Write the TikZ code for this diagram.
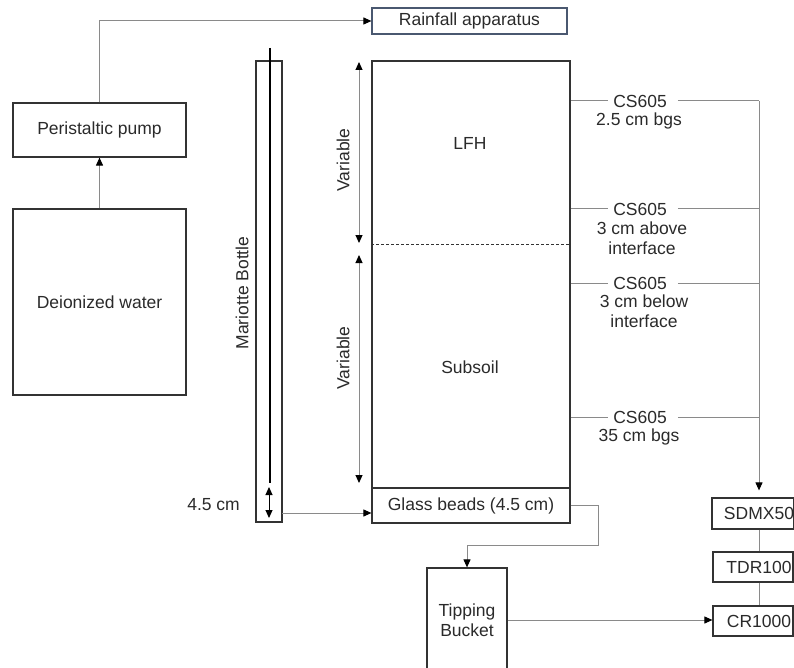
\documentclass[tikz,border=0pt]{standalone}
\usepackage{fontspec}
\setmainfont{Liberation Sans}
\usetikzlibrary{arrows.meta}
\definecolor{boxc}{HTML}{333333}
\definecolor{conc}{HTML}{8A8A8A}
\definecolor{txtc}{HTML}{2A2A2A}
\definecolor{rainc}{HTML}{4A5870}
\begin{document}
\begin{tikzpicture}[x=1pt,y=-1pt,
  font=\fontsize{17.5}{20}\selectfont, text=txtc,
  box/.style={draw=boxc,line width=1.2pt,inner sep=0pt,align=center},
  conn/.style={draw=conc,line width=1pt},
  arr/.style={-{Triangle[length=8pt,width=7pt,color=black]}},
  darr/.style={{Triangle[length=8pt,width=7pt,color=black]}-{Triangle[length=8pt,width=7pt,color=black]}},
  lbl/.style={inner sep=0pt,align=center}]
\useasboundingbox (0,0) rectangle (794,668);
% boxes
\node[box,draw=rainc,minimum width=195pt,minimum height=26pt] (rain) at (469.5,21) {Rainfall apparatus};
\node[box,minimum width=173pt,minimum height=54pt] (pump) at (99.5,130) {Peristaltic pump};
\node[box,minimum width=173pt,minimum height=186pt] (water) at (99.5,302) {Deionized water};
\node[box,minimum width=26pt,minimum height=461pt] (mar) at (269,291.5) {};
\node[lbl,rotate=90] (mlbl) at (242,293) {Mariotte Bottle};
\node[box,minimum width=198pt,minimum height=462pt] (col) at (471,292) {};
\node[box,minimum width=198pt,minimum height=35pt] (glass) at (471,505.5) {Glass beads (4.5 cm)};
\node[lbl] (lfh) at (470,143) {LFH};
\node[lbl] (sub) at (470,367) {Subsoil};
\node[box,minimum width=80pt,minimum height=104pt] (tb) at (467,620) {Tipping\\Bucket};
\node[box,minimum width=80pt,minimum height=31pt] (sdmx) at (753,513.5) {\hspace*{12pt}SDMX50};
\node[box,minimum width=80pt,minimum height=30pt] (tdr) at (753,567) {\hspace*{12pt}TDR100};
\node[box,minimum width=80pt,minimum height=30pt] (cr) at (753,621) {\hspace*{12pt}CR1000};
% left connectors
\draw[conn,arr] (pump.north) |- (rain.west);
\draw[conn,arr] (water.north) -- (pump.south);
% Mariotte inner tube and dimension
\coordinate (mt) at (270,48);
\coordinate (mb) at (270,483);
\draw[black,line width=2pt] (mt) -- (mb);
\coordinate (d1) at (269,487);
\coordinate (d2) at (269,518);
\draw[black,line width=1pt,darr] (d1) -- (d2);
\node[lbl,anchor=east] (d45) at (240,505) {4.5 cm};
\coordinate (m1) at (282,513);
\draw[conn,arr] (m1) -- (m1 -| glass.west);
% Variable arrows
\coordinate (va1) at (359,62);
\coordinate (vb1) at (359,243);
\coordinate (va2) at (359,255);
\coordinate (vb2) at (359,483);
\draw[conn,darr] (va1) -- (vb1);
\draw[conn,darr] (va2) -- (vb2);
\node[lbl,rotate=90] (v1) at (343,160) {Variable};
\node[lbl,rotate=90] (v2) at (343,358) {Variable};
% interface
\draw[boxc,line width=0.8pt,dash pattern=on 3pt off 2pt] (col.west |- 0,244) -- (col.east |- 0,244);
% sensors
\node[lbl,inner xsep=5pt] (s1) at (640,101) {CS605};
\node[lbl,inner xsep=5pt] (s2) at (640,209) {CS605};
\node[lbl,inner xsep=5pt] (s3) at (640,283) {CS605};
\node[lbl,inner xsep=5pt] (s4) at (640,417) {CS605};
\node[lbl] (s1l) at (639,121) {2.5 cm bgs};
\node[lbl] (s2l) at (642,238) {3 cm above\\interface};
\node[lbl] (s3l) at (644,311) {3 cm below\\interface};
\node[lbl] (s4l) at (639,437) {35 cm bgs};
\coordinate (bus1) at (759,101);
\foreach \s in {s1,s2,s3,s4}{
  \draw[conn] (col.east |- \s.west) -- (\s.west);
  \draw[conn,shorten <=6pt] (\s.east) -- (\s.east -| bus1);
}
\draw[conn,arr,shorten >=7pt] (bus1) -- (bus1 |- sdmx.north);
\draw[conn] (bus1 |- sdmx.south) -- (bus1 |- tdr.north);
\draw[conn] (bus1 |- tdr.south) -- (bus1 |- cr.north);
% drainage
\coordinate (g2) at (598,545);
\draw[conn,arr] (glass.east) -| (g2) -| (tb.north);
\draw[conn,arr] (tb.east) -- (tb.east -| cr.west);
\end{tikzpicture}
\end{document}
